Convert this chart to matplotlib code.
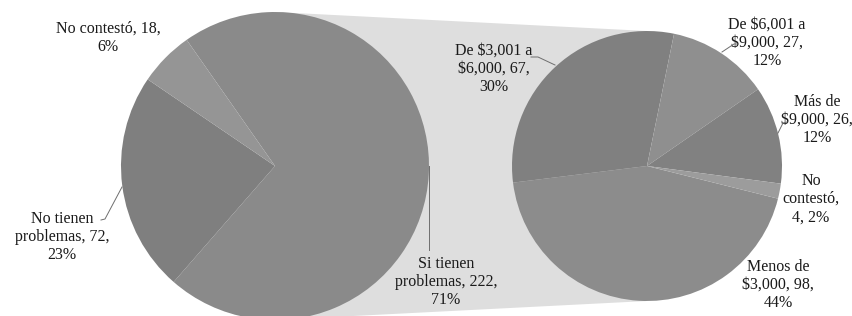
# -*- coding: utf-8 -*-
import matplotlib
matplotlib.use("Agg")
import matplotlib.pyplot as plt
from matplotlib.patches import Polygon

# primer pastel (orden horario)
grupos = ["Si tienen\nproblemas", "No tienen\nproblemas", "No contestó"]
conteos = [222, 72, 18]

# segundo pastel: desglose de "Si tienen problemas" (orden horario)
ingresos = ["Menos de\n$3,000", "De $3,001 a\n$6,000", "De $6,001 a\n$9,000",
            "Más de\n$9,000", "No\ncontestó"]
conteos_ing = [98, 67, 27, 26, 4]

H = 316


def py(y):
    # coordenadas de pixel (y hacia abajo) -> datos
    return H - y


fig = plt.figure(figsize=(8.52, 3.16), dpi=100)
ax = fig.add_axes([0, 0, 1, 1])

c1, r1 = (275, py(166)), 154
c2, r2 = (647, py(166)), 135

# franja de conexion
conn = Polygon([(c1[0], c1[1] + r1), (c2[0], c2[1] + r2),
                (c2[0], c2[1] - r2), (c1[0], c1[1] - r1)],
               closed=True, facecolor="#dedede", edgecolor="none", zorder=0)
ax.add_patch(conn)

col1 = ["#8a8a8a", "#7f7f7f", "#959595"]
ax.pie(conteos, colors=col1, startangle=125, counterclock=False,
       center=c1, radius=r1, wedgeprops=dict(linewidth=0), frame=True)

col2 = ["#8c8c8c", "#808080", "#8f8f8f", "#818181", "#9c9c9c"]
ax.pie(conteos_ing, colors=col2, startangle=-14, counterclock=False,
       center=c2, radius=r2, wedgeprops=dict(linewidth=0), frame=True)

ax.set_xlim(0, 852)
ax.set_ylim(0, H)
ax.set_aspect("equal")
ax.axis("off")

font = dict(family="Liberation Serif", fontsize=11.5, color="#1a1a1a",
            ha="center", va="center", linespacing=1.2, parse_math=False)


def etiqueta(nombre, n, total, sep=", ", sep2=",\n"):
    p = round(100 * n / total)
    return f"{nombre}{sep}{n}{sep2}{p}%"


t1 = sum(conteos)
t2 = sum(conteos_ing)

pos1 = [(446, 282), (62, 237), (108, 38)]
for nombre, n, (x, y) in zip(grupos, conteos, pos1):
    ax.text(x, py(y), etiqueta(nombre, n, t1), **font)

pos2 = [(778, 285), (494, 69), (767, 43), (817, 120), (811, 199)]
for i, (nombre, n, (x, y)) in enumerate(zip(ingresos, conteos_ing, pos2)):
    if i == 4:
        txt = etiqueta(nombre, n, t2, sep=",\n", sep2=", ")
    else:
        txt = etiqueta(nombre, n, t2)
    ax.text(x, py(y), txt, **font)

# lineas guia
guias = [
    [(429, 166), (429, 250)],
    [(101, 220), (105, 219), (122, 187)],
    [(531, 57), (538, 57), (555, 65)],
    [(722, 52), (734, 44), (738, 44)],
    [(778, 133), (783, 123), (787, 122)],
]
for g in guias:
    xs = [p[0] for p in g]
    ys = [py(p[1]) for p in g]
    ax.plot(xs, ys, color="#6e6e6e", lw=0.7, zorder=3)

fig.savefig("out.png", dpi=100)
